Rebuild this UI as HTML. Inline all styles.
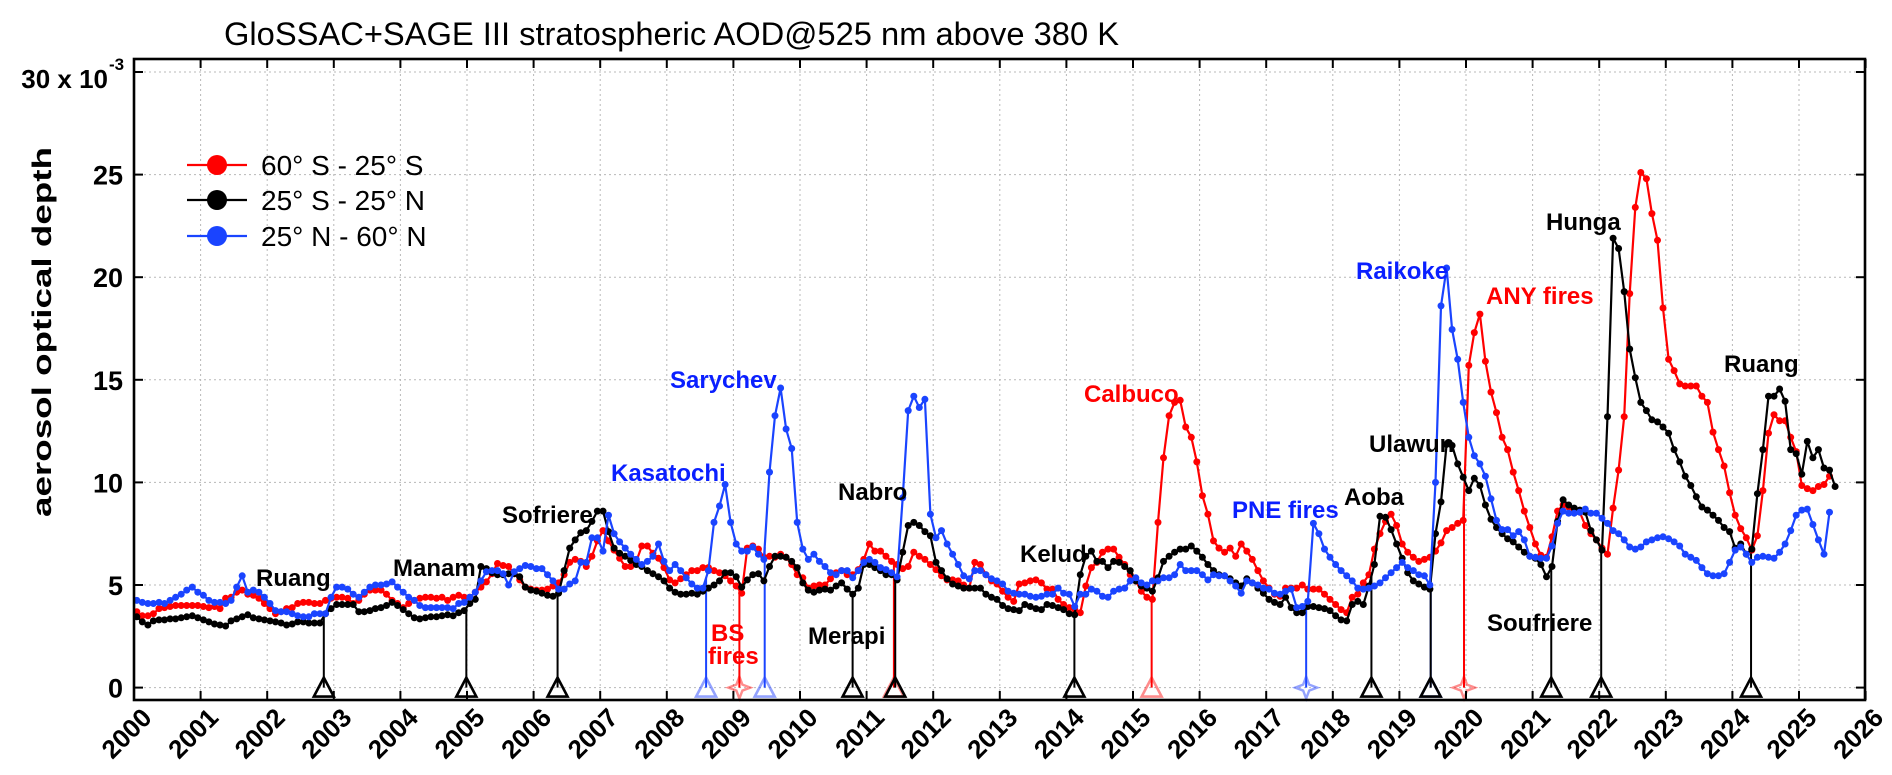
<!DOCTYPE html>
<html><head><meta charset="utf-8">
<style>
html,body{margin:0;padding:0;background:#fff;}
svg{display:block;font-family:"Liberation Sans",Arial,sans-serif;}
</style></head>
<body>
<svg id="chart" width="1892" height="775" viewBox="0 0 1892 775" xmlns="http://www.w3.org/2000/svg">
  <text x="224" y="45" font-size="32" fill="#000" textLength="895" lengthAdjust="spacingAndGlyphs">GloSSAC+SAGE III stratospheric AOD@525 nm above 380 K</text>
  <text transform="translate(51,332) rotate(-90)" text-anchor="middle" font-size="27" font-weight="bold" textLength="370" lengthAdjust="spacingAndGlyphs">aerosol optical depth</text>
  <g id="grid"></g>
  <g id="events"></g>
  <g id="series"></g>
  <g id="axes"></g>
  <g id="labels"></g>
  <g id="legend"></g>
</svg>
<script>
// ---- data (monthly values, x 10^-3, starting Jan 2000) ----
const redSeries = [
3.7,3.5,3.5,3.6,3.85,3.9,3.95,4.0,4.0,4.0,4.0,4.0,
3.95,3.9,3.95,3.85,4.35,4.4,4.65,4.75,4.55,4.5,4.35,4.1,
3.85,3.6,3.7,3.85,3.9,4.1,4.15,4.15,4.1,4.1,4.25,4.35,
4.4,4.4,4.35,4.1,4.25,4.55,4.75,4.75,4.75,4.55,4.25,4.1,
3.9,4.1,4.25,4.35,4.4,4.4,4.35,4.4,4.25,4.4,4.5,4.4,
4.4,4.65,4.9,5.15,5.55,6.05,5.95,5.9,5.55,5.25,4.9,4.8,
4.75,4.75,4.8,4.95,5.1,5.5,6.1,6.25,6.15,5.9,6.4,7.15,
7.65,7.15,6.7,6.3,5.9,5.9,6.15,6.9,6.9,6.55,6.3,5.85,
5.25,5.1,5.3,5.5,5.7,5.7,5.85,5.85,5.7,5.6,5.45,5.2,
4.95,4.6,6.8,6.9,6.75,6.35,6.4,6.35,6.5,6.35,6.0,5.5,
5.35,4.85,4.95,5.0,5.0,5.3,5.6,5.7,5.5,5.5,5.75,6.25,
7.0,6.65,6.65,6.4,6.15,6.0,5.8,5.9,6.6,6.4,6.25,6.0,
5.75,5.45,5.25,5.25,5.2,5.0,4.85,6.1,6.0,5.5,5.2,5.05,
4.7,4.4,4.2,5.05,5.1,5.2,5.25,5.1,4.8,4.8,4.3,4.05,
3.9,3.8,3.65,4.95,5.85,6.1,6.6,6.75,6.75,6.35,6.0,5.5,
5.2,4.7,4.4,4.3,8.05,11.2,13.25,13.9,14.0,12.7,12.2,11.0,
9.35,8.45,7.15,6.8,6.6,6.8,6.4,7.0,6.65,6.25,5.7,5.2,
4.85,4.55,4.45,4.85,4.85,4.85,5.0,4.8,4.8,4.8,4.55,4.3,
4.05,3.8,3.65,4.4,4.55,5.1,5.5,6.75,7.5,8.1,8.45,7.9,
7.0,6.6,6.35,6.15,6.25,6.35,6.65,7.05,7.65,7.8,8.0,8.15,
15.7,17.3,18.2,15.9,14.4,13.4,12.2,11.6,10.5,9.6,8.6,7.8,
7.0,6.45,6.35,7.35,8.6,8.9,8.8,8.6,8.55,7.9,7.5,7.2,
6.8,6.5,8.75,10.6,13.2,19.2,23.4,25.1,24.8,23.1,21.8,18.5,
16.0,15.45,14.8,14.7,14.7,14.7,14.2,13.9,12.45,11.6,10.8,9.5,
8.4,7.75,7.3,6.7,7.4,9.6,12.4,13.3,13.0,13.0,12.2,11.5,
9.85,9.7,9.6,9.8,9.9,10.3];
const blackSeries = [
3.45,3.2,3.05,3.25,3.3,3.3,3.35,3.35,3.4,3.45,3.5,3.4,
3.3,3.2,3.1,3.05,3.0,3.25,3.35,3.45,3.55,3.4,3.35,3.3,
3.25,3.2,3.15,3.05,3.1,3.2,3.2,3.15,3.15,3.15,3.6,3.85,
4.05,4.05,4.05,4.05,3.7,3.7,3.75,3.85,3.9,4.0,4.15,4.0,
3.8,3.6,3.4,3.35,3.4,3.45,3.45,3.5,3.55,3.5,3.65,3.75,
4.1,4.3,5.9,5.8,5.6,5.5,5.5,5.55,5.55,5.4,4.9,4.75,
4.7,4.6,4.5,4.45,4.6,5.7,6.8,7.2,7.55,7.65,8.1,8.6,
8.6,7.6,6.8,6.55,6.4,6.2,6.0,5.9,5.7,5.55,5.4,5.2,
4.85,4.65,4.55,4.55,4.6,4.55,4.7,4.85,5.0,5.2,5.6,5.6,
5.4,4.9,5.25,5.5,5.55,5.2,5.9,6.4,6.4,6.35,6.15,5.85,
5.1,4.75,4.65,4.75,4.8,4.75,4.95,5.1,4.8,4.55,4.85,6.0,
6.0,5.85,5.7,5.5,5.5,5.25,6.6,7.9,8.05,7.9,7.6,7.4,
6.1,5.7,5.3,5.05,4.95,4.85,4.85,4.85,4.85,4.55,4.4,4.3,
4.0,3.85,3.8,3.75,4.05,3.95,3.85,3.8,4.05,4.0,3.9,3.8,
3.6,3.55,5.5,6.4,6.65,6.15,6.15,5.85,6.15,6.1,5.9,5.7,
5.2,4.95,4.85,4.7,5.35,6.15,6.4,6.6,6.75,6.75,6.9,6.65,
6.35,6.0,5.7,5.5,5.45,5.3,5.1,4.95,5.3,5.1,4.85,4.6,
4.3,4.15,4.05,4.4,3.9,3.65,3.65,3.95,3.95,3.9,3.85,3.75,
3.5,3.3,3.25,4.05,4.2,4.05,4.95,6.0,8.35,8.3,7.7,7.0,
6.3,5.6,5.2,5.05,4.9,4.8,7.5,9.05,11.85,11.8,10.9,10.25,
9.6,10.2,9.85,8.9,8.2,7.8,7.5,7.25,7.1,6.85,6.6,6.4,
6.3,6.0,5.4,5.9,8.1,9.15,8.9,8.75,8.65,8.55,7.65,7.2,
6.7,13.2,21.9,21.4,19.3,16.5,15.1,13.9,13.5,13.05,12.95,12.7,
12.4,11.6,11.0,10.3,9.85,9.3,8.8,8.65,8.4,8.15,7.8,7.6,
6.8,7.0,6.5,6.75,9.45,11.6,14.2,14.2,14.55,13.95,11.6,11.4,
10.4,12.0,11.2,11.6,10.7,10.6,9.8];
const blueSeries = [
4.25,4.15,4.1,4.1,4.15,4.1,4.25,4.4,4.55,4.75,4.9,4.65,
4.5,4.25,4.15,4.15,4.1,4.25,4.9,5.45,4.65,4.75,4.65,4.4,
4.1,3.75,3.7,3.7,3.6,3.5,3.45,3.45,3.6,3.6,3.6,4.4,
4.9,4.9,4.8,4.55,4.4,4.65,4.9,5.0,5.0,5.05,5.15,4.9,
4.65,4.4,4.25,4.0,3.9,3.9,3.9,3.9,3.9,3.85,4.1,4.15,
4.4,4.65,5.2,5.65,5.7,5.7,5.55,5.0,5.65,5.8,5.95,5.9,
5.8,5.8,5.5,5.2,4.8,4.8,5.05,5.2,6.1,6.1,7.3,7.3,
6.65,8.4,7.5,7.1,6.8,6.5,6.25,6.0,6.15,6.4,7.0,6.15,
5.7,6.0,5.7,5.35,5.05,4.85,4.85,5.7,8.05,8.85,9.9,8.05,
7.0,6.65,6.65,6.85,6.5,6.25,10.5,13.25,14.6,12.6,11.65,8.05,
6.75,6.25,6.5,6.15,5.9,5.6,5.5,5.7,5.7,5.35,5.7,6.1,
6.25,6.1,5.85,5.75,5.6,5.4,9.25,13.5,14.2,13.65,14.05,8.45,
7.3,7.65,7.0,6.5,6.0,5.45,5.3,5.7,5.7,5.5,5.3,5.2,
5.05,4.7,4.6,4.55,4.55,4.45,4.4,4.45,4.55,4.55,4.85,4.6,
4.55,3.95,4.55,4.55,4.8,4.7,4.45,4.4,4.7,4.8,4.85,5.2,
5.35,5.1,5.0,5.2,5.2,5.35,5.35,5.5,6.0,5.7,5.7,5.7,
5.5,5.25,5.5,5.45,5.45,5.2,4.95,4.6,5.2,5.1,5.0,4.85,
4.8,4.6,4.55,4.7,4.8,3.9,3.95,4.2,8.0,7.5,6.75,6.35,
6.0,5.7,5.45,5.2,4.85,4.8,4.85,4.95,5.1,5.35,5.6,5.85,
6.1,5.85,5.7,5.5,5.45,5.0,10.0,18.6,20.45,17.45,16.0,13.9,
12.2,11.3,10.9,10.3,9.2,8.15,7.7,7.7,7.4,7.6,7.2,6.4,
6.35,6.3,6.3,6.9,8.0,8.6,8.5,8.5,8.55,8.7,8.5,8.5,
8.25,8.0,7.65,7.5,7.2,6.85,6.75,6.85,7.1,7.2,7.3,7.35,
7.25,7.1,6.9,6.5,6.35,6.2,5.85,5.55,5.45,5.45,5.55,6.1,
6.7,6.85,6.5,6.1,6.35,6.4,6.35,6.3,6.6,7.0,7.65,8.4,
8.65,8.7,7.95,7.2,6.5,8.55];
const startYear = 2000;
const yTicks = [0,5,10,15,20,25];
const xTickYears = [2000,2001,2002,2003,2004,2005,2006,2007,2008,2009,2010,2011,2012,2013,2014,2015,2016,2017,2018,2019,2020,2021,2022,2023,2024,2025,2026];
const eventNames = ["Ruang","Manam","Sofriere","Kasatochi","BS fires","Sarychev","Merapi","Nabro-red","Nabro","Kelud","Calbuco","PNE fires","Aoba","Raikoke-blue","Raikoke","ANY fires","Soufriere","Hunga","Ruang 2024"];
const eventTimes = [2002.85,2004.99,2006.36,2008.59,2009.09,2009.47,2010.79,2011.41,2011.43,2014.12,2015.28,2017.6,2018.58,2019.47,2019.47,2019.97,2021.28,2022.03,2024.28];
const eventSeries = ["black","black","black","blue","red","blue","black","red","black","black","red","blue","black","blue","black","red","black","black","black"];
const eventShapes = ["tri","tri","tri","tri","star","tri","tri","tri","tri","tri","tri","star","tri","tri","tri","star","tri","tri","tri"];

// ---- scales ----
const X0=134, X1=1865, YTOP=59, YBOT=700;
function xOf(t){ return X0 + (t-2000)*66.6; }
function yOf(v){ return 687.6 - v*20.52; }
const NS="http://www.w3.org/2000/svg";
function mk(tag, attrs, parent){ const e=document.createElementNS(NS,tag); for(const k in attrs) e.setAttribute(k,attrs[k]); parent.appendChild(e); return e; }
const colors={red:"#ff0000",black:"#000000",blue:"#1a44ff"};
const light={red:"rgba(255,0,0,0.45)",black:"#000",blue:"rgba(40,70,255,0.5)"};
const seriesMap={red:redSeries,black:blackSeries,blue:blueSeries};
function tOf(i){ return startYear + (i+0.5)/12; }

// grid
const grid=document.getElementById('grid');
xTickYears.forEach(yr=>{ if(yr>2000 && yr<2026){ const l=mk('line',{x1:xOf(yr),x2:xOf(yr),y1:YTOP,y2:YBOT,stroke:'#b8b8b8','stroke-width':1,'stroke-dasharray':'2,3'},grid);
  }});
yTicks.concat([30]).forEach(v=>{ const l=mk('line',{x1:X0,x2:X1,y1:yOf(v),y2:yOf(v),stroke:'#b8b8b8','stroke-width':1,'stroke-dasharray':'2,3'},grid);
  });

// series
const sg=document.getElementById('series');
["red","black","blue"].forEach(name=>{
  const arr=seriesMap[name];
  const pts=arr.map((v,i)=>xOf(tOf(i)).toFixed(1)+","+yOf(v).toFixed(1)).join(" ");
  const g=mk('g',{},sg);
  
  
  const pl=mk('polyline',{points:pts,fill:'none',stroke:colors[name],'stroke-width':2.2,'stroke-linejoin':'round'},g);
  
  
  arr.forEach((v,i)=>{
    const c=mk('circle',{cx:xOf(tOf(i)).toFixed(1),cy:yOf(v).toFixed(1),r:3.5,fill:colors[name]},g);
    
    
  });
});

// events
function valueAt(arr,t){
  const f=(t-startYear)*12-0.5; let i=Math.floor(f);
  if(i<0) return arr[0]; if(i>=arr.length-1) return arr[arr.length-1];
  const a=f-i; return arr[i]*(1-a)+arr[i+1]*a;
}
const eg=document.getElementById('events');
eventTimes.forEach((t,k)=>{
  const s=eventSeries[k], x=xOf(t), v=valueAt(seriesMap[s],t), y0=yOf(0);
  const col = s==="black" ? "#000" : light[s];
  const g=mk('g',{},eg);
  
  
  mk('line',{x1:x,x2:x,y1:y0,y2:yOf(v),stroke:s==="black"?"#000":colors[s],'stroke-width':2},g);
  if(eventShapes[k]==="tri"){
    mk('polygon',{points:(x-10)+","+(y0+9)+" "+(x+10)+","+(y0+9)+" "+x+","+(y0-10),fill:'none',stroke:col,'stroke-width':2.6},g);
  } else {
    const r=11, q=3;
    mk('polygon',{points:`${x},${y0-r} ${x+q},${y0-q} ${x+r},${y0} ${x+q},${y0+q} ${x},${y0+r} ${x-q},${y0+q} ${x-r},${y0} ${x-q},${y0-q}`,fill:'none',stroke:col,'stroke-width':2.4},g);
  }
});

// axes
const ax=document.getElementById('axes');
const frame=mk('rect',{x:X0,y:YTOP,width:X1-X0,height:YBOT-YTOP,fill:'none',stroke:'#000','stroke-width':2.6},ax);
 
xTickYears.forEach(yr=>{
  const x=xOf(yr);
  mk('line',{x1:x,x2:x,y1:YBOT,y2:YBOT-9,stroke:'#000','stroke-width':2},ax);
  mk('line',{x1:x,x2:x,y1:YTOP,y2:YTOP+9,stroke:'#000','stroke-width':2},ax);
  const t=mk('text',{transform:`translate(${x+6},${YBOT+6}) rotate(-45)`,'text-anchor':'end','font-size':26,'font-weight':'bold',dy:'0.72em'},ax);
  t.textContent=String(yr);
  
  
});
yTicks.concat([30]).forEach(v=>{
  const y=yOf(v);
  mk('line',{x1:X0,x2:X0+9,y1:y,y2:y,stroke:'#000','stroke-width':2},ax);
  mk('line',{x1:X1,x2:X1-9,y1:y,y2:y,stroke:'#000','stroke-width':2},ax);
});
yTicks.forEach(v=>{
  const t=mk('text',{x:123,y:yOf(v)+10,'text-anchor':'end','font-size':27,'font-weight':'bold'},ax);
  t.textContent=String(v);
  
  
});
const t30=mk('text',{x:108,y:88,'text-anchor':'end','font-size':26,'font-weight':'bold'},ax);
t30.textContent="30 x 10";


const sup=mk('text',{x:109,y:70,'font-size':17,'font-weight':'bold'},ax);
sup.textContent="-3";



// labels
const labelText=["Ruang","Manam","Sofriere","Kasatochi","BS","fires","Sarychev","Merapi","Nabro","Kelud","Calbuco","PNE fires","Aoba","Ulawun","Raikoke","ANY fires","Soufriere","Hunga","Ruang"];
const labelColor=["black","black","black","blue","red","red","blue","black","black","black","red","blue","black","black","blue","red","black","black","black"];
const labelPos=[[256,586],[393,576],[502,523],[611,481],[711,641],[708,664],[670,388],[808,644],[838,500],[1020,562],[1084,402],[1232,518],[1344,505],[1369,452],[1356,279],[1486,304],[1487,631],[1546,230],[1724,372]];
const lg=document.getElementById('labels');
labelText.forEach((s,i)=>{
  const t=mk('text',{x:labelPos[i][0],y:labelPos[i][1],'font-size':24,'font-weight':'bold',fill:labelColor[i]==="black"?"#000":(labelColor[i]==="red"?"#ff0000":"#0a1fff")},lg);
  t.textContent=s;
  
  
});

// legend
const legendLabels=["60° S - 25° S","25° S - 25° N","25° N - 60° N"];
const legendKeys=["red","black","blue"];
const legendY=[165,200,236];
const leg=document.getElementById('legend');
legendKeys.forEach((k,i)=>{
  const g=mk('g',{},leg);
  
  
  mk('line',{x1:187,x2:247,y1:legendY[i],y2:legendY[i],stroke:colors[k],'stroke-width':2.2},g);
  mk('circle',{cx:217,cy:legendY[i],r:10,fill:colors[k]},g);
  const t=mk('text',{x:261,y:legendY[i]+10,'font-size':28},g);
  t.textContent=legendLabels[i];
});
</script>
</body></html>
